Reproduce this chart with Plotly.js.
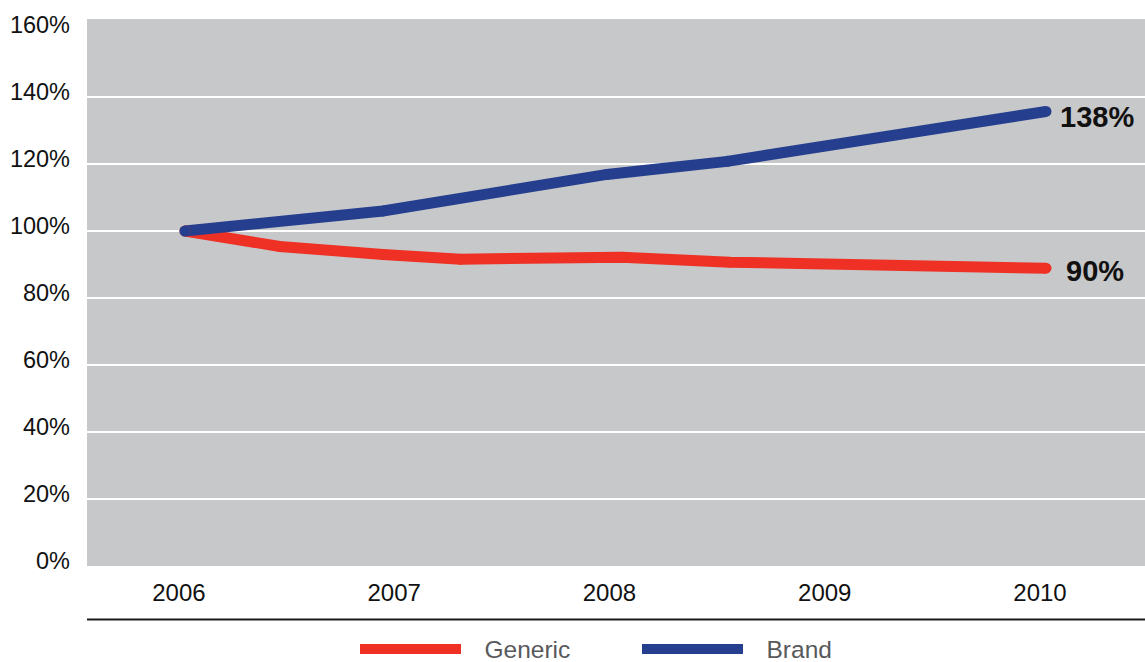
<!DOCTYPE html>
<html>
<head>
<meta charset="utf-8">
<script src="https://cdn.plot.ly/plotly-3.0.1.min.js"></script>
<style>
html,body{margin:0;padding:0;background:#fff;}
#chart{width:1145px;height:662px;}
</style>
</head>
<body>
<div id="chart"></div>
<script>
// Data (index relative to 2006 = 100%)
const yearTicks = [2006, 2007, 2008, 2009, 2010];
const genericX = [2006, 2006.44, 2006.92, 2007.28, 2008.03, 2008.53, 2010];
const genericY = [100, 95.4, 93.0, 91.6, 92.2, 90.7, 88.9];
const brandX = [2006, 2006.92, 2007.96, 2008.52, 2010];
const brandY = [100, 106.0, 116.9, 120.8, 135.7];
const seriesNames = ['Generic', 'Brand'];
const endLabels = ['90%', '138%'];
const yTicks = [0, 20, 40, 60, 80, 100, 120, 140, 160];
const gridVals = [20, 40, 60, 80, 100, 120, 140];

const RED = '#ee3124';
const BLUE = '#253f8e';
const FONT = 'Arial, "Liberation Sans", Helvetica, sans-serif';
const PAD = '\u00a0\u00a0\u2009';

const traces = [
  {name: PAD + seriesNames[0], x: genericX, y: genericY, mode: 'lines',
   line: {color: RED, width: 11}, hoverinfo: 'skip'},
  {name: PAD + seriesNames[1], x: brandX, y: brandY, mode: 'lines',
   line: {color: BLUE, width: 11}, hoverinfo: 'skip'},
  // round end caps
  {x: genericX, y: genericY, mode: 'markers', showlegend: false,
   marker: {color: RED, size: 11}, hoverinfo: 'skip'},
  {x: brandX, y: brandY, mode: 'markers', showlegend: false,
   marker: {color: BLUE, size: 11}, hoverinfo: 'skip'}
];

const shapes = gridVals.map(v => ({
  type: 'line', xref: 'paper', yref: 'y', x0: 0, x1: 1, y0: v, y1: v,
  line: {color: '#ffffff', width: 2}, layer: 'below'
}));
// black rule under the x tick labels
shapes.push({type: 'line', xref: 'paper', yref: 'paper', x0: 0, x1: 1,
  y0: -0.0976, y1: -0.0976, line: {color: '#1a1a1a', width: 2}});

const annotations = [
  {x: genericX[genericX.length-1], y: genericY[genericY.length-1], text: '<b>' + endLabels[0] + '</b>',
   xanchor: 'left', yanchor: 'middle', xshift: 18, yshift: -3, showarrow: false,
   font: {family: FONT, size: 29, color: '#111'}},
  {x: brandX[brandX.length-1], y: brandY[brandY.length-1], text: '<b>' + endLabels[1] + '</b>',
   xanchor: 'left', yanchor: 'middle', xshift: 12, yshift: -6, showarrow: false,
   font: {family: FONT, size: 29, color: '#111'}}
];

const layout = {
  width: 1145, height: 662,
  margin: {l: 87, r: 0, t: 19, b: 96, pad: 0},
  paper_bgcolor: '#ffffff',
  plot_bgcolor: '#c7c8ca',
  font: {family: FONT, color: '#111', size: 24},
  showlegend: true,
  legend: {orientation: 'h', xref: 'container', yref: 'container',
    x: 355/1145, xanchor: 'left', y: 13/662, yanchor: 'middle',
    font: {family: FONT, size: 24.5, color: '#58595b'}, itemwidth: 101,
    entrywidth: 166, entrywidthmode: 'pixels',
    bgcolor: 'rgba(0,0,0,0)', traceorder: 'normal'},
  xaxis: {range: [2005.545, 2010.46], tickvals: yearTicks, ticktext: yearTicks.map(String),
    showgrid: false, zeroline: false, showline: false, ticks: '',
    ticklabelstandoff: 10, ticklabelshift: -6,
    tickfont: {family: FONT, size: 24, color: '#111'}},
  yaxis: {range: [0, 163.3], tickvals: yTicks, ticktext: yTicks.map(v => v + '%'),
    showgrid: false, zeroline: false, showline: false, ticks: '',
    ticklabelstandoff: 16, ticklabelshift: -5,
    tickfont: {family: FONT, size: 23.5, color: '#111'}},
  shapes: shapes,
  annotations: annotations
};

Plotly.newPlot('chart', traces, layout, {staticPlot: true, displayModeBar: false});
</script>
</body>
</html>
